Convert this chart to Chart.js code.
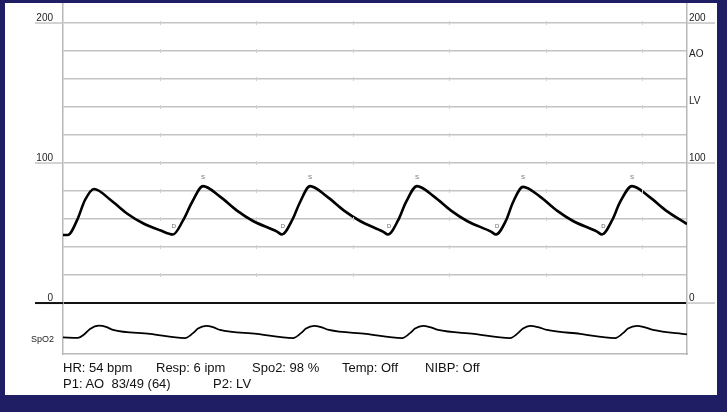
<!DOCTYPE html>
<html>
<head>
<meta charset="utf-8">
<script src="https://cdn.jsdelivr.net/npm/chart.js@4/dist/chart.umd.min.js"></script>
<style>
    body { margin: 0; background: #1f1d63; width: 727px; height: 412px; overflow: hidden; font-family: "Liberation Sans", Arial, sans-serif; }
    #panel { position: absolute; left: 5px; top: 3px; width: 712px; height: 392px; background: #fff; }
    #box { position: absolute; left: 0; top: 0; width: 712px; height: 392px; }
    .info { position: absolute; font-size: 13px; line-height: 15px; color: #111; white-space: pre; }
</style>
</head>
<body>
<div id="panel">
    <div id="box"><canvas id="monitor"></canvas></div>
    <span class="info" style="left:58px; top:357px;">HR: 54 bpm</span>
    <span class="info" style="left:151px; top:357px;">Resp: 6 ipm</span>
    <span class="info" style="left:247px; top:357px;">Spo2: 98 %</span>
    <span class="info" style="left:337px; top:357px;">Temp: Off</span>
    <span class="info" style="left:420px; top:357px;">NIBP: Off</span>
    <span class="info" style="left:58px; top:373px;">P1: AO  83/49 (64)</span>
    <span class="info" style="left:208px; top:373px;">P2: LV</span>
</div>
<script>
// time in seconds, pressure in mmHg
var pressureTime = [0, 0.05, 0.145, 0.228, 0.321, 0.487, 0.663, 0.829, 1.005, 1.14,
    1.244, 1.337, 1.451, 1.627, 1.803, 1.969, 2.218, 2.269,
    2.373, 2.456, 2.56, 2.736, 2.912, 3.078, 3.316, 3.368,
    3.472, 3.554, 3.668, 3.845, 4.021, 4.187, 4.435, 4.487,
    4.591, 4.663, 4.767, 4.943, 5.119, 5.285, 5.534, 5.585,
    5.689, 5.772, 5.896, 6.073, 6.249, 6.466];
var pressureValue = [48.6, 48.6, 59, 73.6, 81.5, 74, 64, 57, 52, 49,
    59, 72, 83.5, 76, 66, 58.6, 51, 49,
    59, 72, 83.5, 76, 66, 58.6, 51, 49,
    59, 72, 83.5, 76, 66, 58.6, 51, 49,
    59, 72, 83, 76, 66, 58.6, 51, 49,
    59, 72, 83.5, 76, 66, 56.4];

var spo2Time = [0, 0.155, 0.218, 0.28, 0.373, 0.446, 0.518, 0.902, 1.264,
    1.347, 1.399, 1.482, 1.554, 1.627, 2.01, 2.383,
    2.466, 2.518, 2.601, 2.674, 2.756, 3.14, 3.513,
    3.596, 3.648, 3.731, 3.803, 3.886, 4.259, 4.632,
    4.715, 4.767, 4.839, 4.922, 5.016, 5.358, 5.72,
    5.803, 5.855, 5.948, 6.021, 6.114, 6.466];
var spo2Value = [-24.5, -24.9, -22.5, -18.5, -16.2, -17, -19.2, -22, -25,
    -21.5, -18.2, -16.3, -17.2, -19.2, -22, -25,
    -21.5, -18.2, -16.3, -17.2, -19.2, -22, -25,
    -21.5, -18.2, -16.3, -17.2, -19.2, -22, -25,
    -21.5, -18.2, -16.3, -17.2, -19.2, -22, -25,
    -21.5, -18.2, -16.3, -17.2, -19.2, -22.4];

var systoleTime = [1.451, 2.56, 3.668, 4.767, 5.896];
var diastoleTime = [1.15, 2.28, 3.38, 4.5, 5.6];

var gridValues = [0, 20, 40, 60, 80, 100, 120, 140, 160, 180, 200];
var secondMarks = [1, 2, 3, 4, 5, 6];
var leftTickValues = [200, 100, 0];
var leftTickLabels = ["200", "100", "0"];
var rightTickValues = [200, 174, 141, 100, 0];
var rightTickLabels = ["200", "AO", "LV", "100", "0"];

function toPoints(xs, ys) {
    var pts = [];
    for (var i = 0; i < xs.length; i++) {
        pts.push({ x: xs[i], y: ys[i] });
    }
    return pts;
}

var axisText = {
    id: "axisText",
    afterDraw: function (chart) {
        var ctx = chart.ctx;
        var a = chart.chartArea;
        var x = chart.scales.x;
        var y = chart.scales.y;
        ctx.save();

        // little marks where each second crosses a grid line
        ctx.strokeStyle = "#d0d0d0";
        ctx.lineWidth = 1;
        secondMarks.forEach(function (s) {
            var px = Math.round(x.getPixelForValue(s)) + 0.5;
            gridValues.forEach(function (v) {
                if (v === 0) return;
                var py = y.getPixelForValue(v);
                ctx.beginPath();
                ctx.moveTo(px, py - 2);
                ctx.lineTo(px, py + 2);
                ctx.stroke();
            });
        });

        ctx.fillStyle = "#222";
        ctx.font = "10px 'Liberation Sans', Arial, sans-serif";
        ctx.textBaseline = "alphabetic";

        // left labels with their extended ticks
        ctx.textAlign = "right";
        leftTickValues.forEach(function (v, i) {
            var py = y.getPixelForValue(v);
            ctx.strokeStyle = v === 0 ? "#111" : "#c4c4c4";
            ctx.lineWidth = v === 0 ? 2 : 1.5;
            ctx.beginPath();
            ctx.moveTo(a.left - 28, py);
            ctx.lineTo(a.left, py);
            ctx.stroke();
            ctx.fillText(leftTickLabels[i], a.left - 10, py - 2);
        });

        // right labels
        ctx.textAlign = "left";
        rightTickValues.forEach(function (v, i) {
            var py = y.getPixelForValue(v);
            if (!isNaN(Number(rightTickLabels[i]))) {
                ctx.strokeStyle = "#c4c4c4";
                ctx.lineWidth = 1.5;
                ctx.beginPath();
                ctx.moveTo(a.right, py);
                ctx.lineTo(a.right + 28, py);
                ctx.stroke();
            }
            ctx.fillText(rightTickLabels[i], a.right + 2, py - 2);
        });

        // SpO2 channel name
        ctx.font = "9px 'Liberation Sans', Arial, sans-serif";
        ctx.textAlign = "right";
        ctx.textBaseline = "middle";
        ctx.fillText("SpO2", a.left - 9, y.getPixelForValue(-26.4));

        // S / D markers on the pressure wave
        ctx.fillStyle = "#666";
        ctx.font = "6px 'Liberation Sans', Arial, sans-serif";
        ctx.textAlign = "center";
        systoleTime.forEach(function (t) {
            ctx.fillText("S", x.getPixelForValue(t), y.getPixelForValue(90));
        });
        diastoleTime.forEach(function (t) {
            ctx.fillText("D", x.getPixelForValue(t), y.getPixelForValue(55));
        });
        ctx.restore();
    }
};

var monitorChart = new Chart(document.getElementById("monitor").getContext("2d"), {
    type: "line",
    data: {
        datasets: [
            {
                label: "P1",
                data: toPoints(pressureTime, pressureValue),
                borderColor: "#000",
                borderWidth: 2.6,
                pointRadius: 0,
                cubicInterpolationMode: "monotone",
                fill: false
            },
            {
                label: "SpO2",
                data: toPoints(spo2Time, spo2Value),
                borderColor: "#000",
                borderWidth: 1.8,
                pointRadius: 0,
                cubicInterpolationMode: "monotone",
                fill: false
            }
        ]
    },
    options: {
        responsive: true,
        maintainAspectRatio: false,
        animation: false,
        layout: { padding: { left: 58, right: 30, top: 0, bottom: 41 } },
        plugins: { legend: { display: false }, tooltip: { enabled: false } },
        scales: {
            x: {
                type: "linear",
                min: 0,
                max: 6.466,
                ticks: { display: false, stepSize: 1 },
                grid: { display: false, drawTicks: false },
                border: { display: true, color: "#b8b8b8", width: 1.5 }
            },
            y: {
                position: "left",
                min: -36.4,
                max: 214.3,
                afterBuildTicks: function (scale) {
                    scale.ticks = gridValues.map(function (v) { return { value: v }; });
                },
                ticks: { display: false },
                grid: {
                    drawTicks: false,
                    color: function (c) { return c.tick && c.tick.value === 0 ? "#111" : "#c4c4c4"; },
                    lineWidth: function (c) { return c.tick && c.tick.value === 0 ? 2 : 1.5; }
                },
                border: { display: true, color: "#b8b8b8", width: 1.5 }
            },
            y2: {
                position: "right",
                min: -36.4,
                max: 214.3,
                ticks: { display: false },
                grid: { drawOnChartArea: false, drawTicks: false },
                border: { display: true, color: "#b8b8b8", width: 1.5 }
            }
        }
    },
    plugins: [axisText]
});
</script>
</body>
</html>
